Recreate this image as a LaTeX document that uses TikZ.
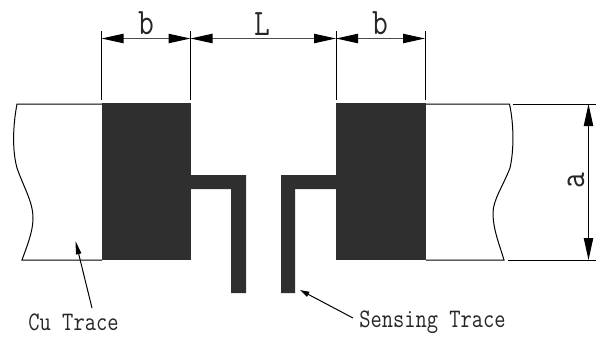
\documentclass[tikz,border=0pt]{standalone}
\usepackage{graphicx}
\usetikzlibrary{arrows.meta}
\definecolor{metalgray}{HTML}{2F2F2F}
\tikzset{
  px/.style={x=0.75pt,y=-0.75pt},
  metal/.style={fill=metalgray,draw=none},
  thin line/.style={line width=0.75pt,draw=black},
  dimline/.style={line width=0.8pt,draw=black!70,{Triangle[length=16.5pt,width=7pt,color=black]}-{Triangle[length=16.5pt,width=7pt,color=black]}},
  leader/.style={line width=0.75pt,draw=black,-{Triangle[length=10pt,width=4pt]}},
  dimlabel/.style={inner sep=0pt,font=\ttfamily\fontsize{23}{23}\selectfont,text=black!85},
  calllabel/.style={inner sep=0pt,font=\ttfamily\fontsize{16.4}{18}\selectfont,text=black!85}
}
\newcommand{\tallertext}[1]{\scalebox{1}[1.22]{#1}}
\begin{document}
\begin{tikzpicture}[px]
\useasboundingbox (0,0) rectangle (600,336);
% metal pads and sensing traces
\fill[metal] (102,103) rectangle (191,260);
\fill[metal] (336,103) rectangle (426,260);
\fill[metal] (190,175) -- (246,175) -- (246,293) -- (231,293) -- (231,189) -- (190,189) -- cycle;
\fill[metal] (337,175) -- (281,175) -- (281,293) -- (295,293) -- (295,189) -- (337,189) -- cycle;
% named points
\coordinate (lt) at (17,104);
\coordinate (lb) at (22,260);
\coordinate (padlt) at (102,104);
\coordinate (padlb) at (102,260);
\coordinate (rt) at (509.5,104);
\coordinate (rb) at (504,260);
\coordinate (padrt) at (426,104);
\coordinate (padrb) at (426,260);
\coordinate (at) at (588.5,104);
\coordinate (ab) at (588.5,260);
\coordinate (e1t) at (101.5,31);
\coordinate (e1b) at (101.5,100);
\coordinate (e2t) at (190.5,31);
\coordinate (e2b) at (190.5,100);
\coordinate (e3t) at (336,31);
\coordinate (e3b) at (336,100);
\coordinate (e4t) at (425,31);
\coordinate (e4b) at (425,100);
\coordinate (d1) at (101.5,38.5);
\coordinate (d2) at (190.5,38.5);
\coordinate (d3) at (336,38.5);
\coordinate (d4) at (425,38.5);
% outlines of the copper trace
\draw[thin line] (padlt) -- (lt) .. controls (13,125) and (12,150) .. (17,168) .. controls (24,188) and (33,202) .. (33,218) .. controls (33,232) and (27,246) .. (lb) -- (padlb);
\draw[thin line] (padrt) -- (rt) .. controls (514,125) and (514,150) .. (510,168) .. controls (503,186) and (493,200) .. (493,213) .. controls (493,230) and (500,246) .. (rb) -- (padrb);
\draw[thin line] (512.5,104) -- (596,104);
\draw[thin line] (508,260) -- (596,260);
% extension lines
\draw[thin line] (e1t) -- (e1b);
\draw[thin line] (e2t) -- (e2b);
\draw[thin line] (e3t) -- (e3b);
\draw[thin line] (e4t) -- (e4b);
% dimensions
\draw[dimline] (d1) -- (d2);
\draw[dimline] (d2) -- (d3);
\draw[dimline] (d3) -- (d4);
\draw[dimline,draw=black] (at) -- (ab);
\node[dimlabel] (bl) at (146.5,23) {\tallertext{b}};
\node[dimlabel] (ll) at (262.5,24) {\tallertext{L}};
\node[dimlabel] (br) at (380.5,23) {\tallertext{b}};
\node[dimlabel,rotate=90] (al) at (576,181) {\tallertext{a}};
% callouts
\node[calllabel] (cu) at (73.5,322) {\tallertext{Cu Trace}};
\node[calllabel] (st) at (432.5,322) {\tallertext{Sensing Trace}};
\coordinate (cutip) at (75.5,241);
\coordinate (sttip) at (300,290);
\draw[leader] (92,308) -- (cutip);
\draw[leader,-{Triangle[length=7pt,width=4pt]}] (353,318) -- (sttip);
\end{tikzpicture}
\end{document}
